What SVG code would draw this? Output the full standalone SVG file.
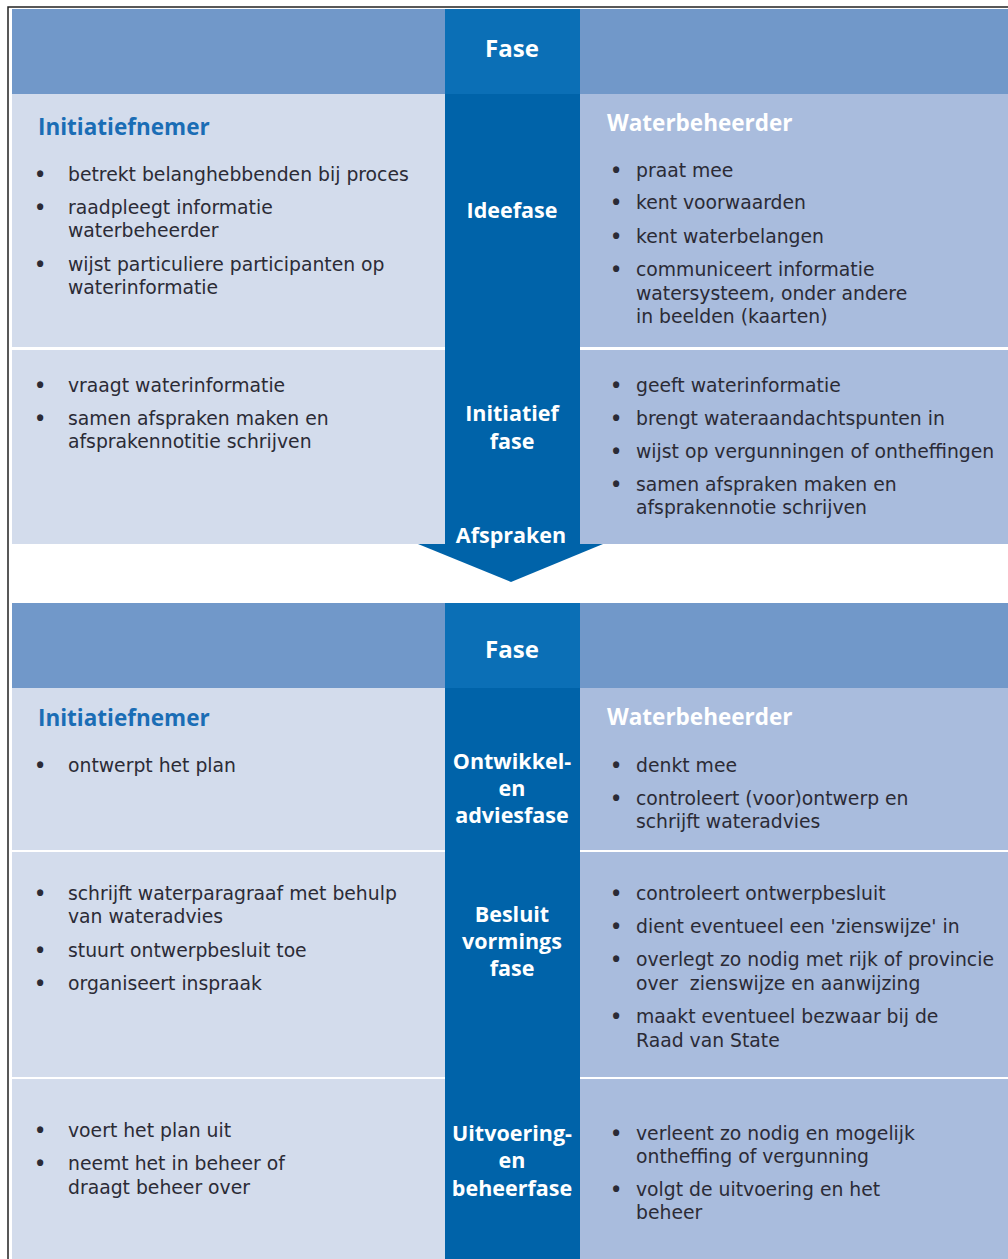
<svg xmlns="http://www.w3.org/2000/svg" width="1008" height="1259" viewBox="0 0 1008 1259">
  <style>
    .hdr { fill: #7198c9; }
    .hdrc { fill: #0b6fb6; }
    .colc { fill: #0063a9; }
    .cl { fill: #d3dcec; }
    .cr { fill: #a9bcdd; }
    text { font-family: "Open Sans", "Noto Sans", "Liberation Sans", sans-serif; }
    .t { font-family: "DejaVu Sans", "Open Sans", sans-serif; font-size: 18.8px; fill: #2b2b36; }
    .b { font-size: 22px; font-weight: bold; fill: #2b2b36; }
    .ttl { font-size: 22.5px; font-weight: bold; }
    .ttl-l { fill: #1a6db5; }
    .ttl-r { fill: #ffffff; }
    .ph { font-size: 21.5px; font-weight: bold; fill: #ffffff; text-anchor: middle; }
    .fase { font-size: 24px; font-weight: bold; fill: #ffffff; text-anchor: middle; }
  </style>

  <!-- outer frame -->
  <rect x="0" y="0" width="1008" height="1259" fill="#ffffff"/>
  <path d="M8 1259 V7 H1008" fill="none" stroke="#222" stroke-width="1.5"/>

  <!-- ============ upper block ============ -->
  <g id="header-top">
    <rect class="hdr" x="12" y="9" width="433" height="85"/>
    <rect class="hdrc" x="445" y="9" width="135" height="85"/>
    <rect class="hdr" x="580" y="9" width="428" height="85"/>
    <text class="fase" x="512" y="57">Fase</text>
  </g>

  <g id="phase-spine-top">
    <rect class="colc" x="445" y="94" width="135" height="450"/>
    <polygon class="colc" points="418,544 603,544 511,582"/>
    <text class="ph" x="512" y="218">Ideefase</text>
    <text class="ph" x="512" y="421">Initiatief<tspan x="512" dy="27.5">fase</tspan></text>
    <text class="ph" x="511" y="543">Afspraken</text>
  </g>

  <g id="ideefase-initiatiefnemer">
    <rect class="cl" x="12" y="94" width="433" height="253"/>
    <text class="ttl ttl-l" x="38" y="135">Initiatiefnemer</text>
    <text class="b" x="36" y="182">•</text>
    <text class="t" x="68" y="181">betrekt belanghebbenden bij proces</text>
    <text class="b" x="36" y="215">•</text>
    <text class="t" x="68" y="214">raadpleegt informatie<tspan x="68" dy="23">waterbeheerder</tspan></text>
    <text class="b" x="36" y="272">•</text>
    <text class="t" x="68" y="271">wijst particuliere participanten op<tspan x="68" dy="23">waterinformatie</tspan></text>
  </g>

  <g id="ideefase-waterbeheerder">
    <rect class="cr" x="580" y="94" width="428" height="253"/>
    <text class="ttl ttl-r" x="607" y="131">Waterbeheerder</text>
    <text class="b" x="612" y="178">•</text>
    <text class="t" x="636" y="177">praat mee</text>
    <text class="b" x="612" y="210">•</text>
    <text class="t" x="636" y="209">kent voorwaarden</text>
    <text class="b" x="612" y="244">•</text>
    <text class="t" x="636" y="243">kent waterbelangen</text>
    <text class="b" x="612" y="277">•</text>
    <text class="t" x="636" y="276">communiceert informatie<tspan x="636" dy="24">watersysteem, onder andere</tspan><tspan x="636" dy="23">in beelden (kaarten)</tspan></text>
  </g>

  <g id="initiatieffase-initiatiefnemer">
    <rect class="cl" x="12" y="350" width="433" height="194"/>
    <text class="b" x="36" y="393">•</text>
    <text class="t" x="68" y="392">vraagt waterinformatie</text>
    <text class="b" x="36" y="426">•</text>
    <text class="t" x="68" y="425">samen afspraken maken en<tspan x="68" dy="23">afsprakennotitie schrijven</tspan></text>
  </g>

  <g id="initiatieffase-waterbeheerder">
    <rect class="cr" x="580" y="350" width="428" height="194"/>
    <text class="b" x="612" y="393">•</text>
    <text class="t" x="636" y="392">geeft waterinformatie</text>
    <text class="b" x="612" y="426">•</text>
    <text class="t" x="636" y="425">brengt wateraandachtspunten in</text>
    <text class="b" x="612" y="459">•</text>
    <text class="t" x="636" y="458">wijst op vergunningen of ontheffingen</text>
    <text class="b" x="612" y="492">•</text>
    <text class="t" x="636" y="491">samen afspraken maken en<tspan x="636" dy="23">afsprakennotie schrijven</tspan></text>
  </g>

  <!-- ============ lower block ============ -->
  <g id="header-bottom">
    <rect class="hdr" x="12" y="603" width="433" height="85"/>
    <rect class="hdrc" x="445" y="603" width="135" height="85"/>
    <rect class="hdr" x="580" y="603" width="428" height="85"/>
    <text class="fase" x="512" y="658">Fase</text>
  </g>

  <g id="phase-spine-bottom">
    <rect class="colc" x="445" y="688" width="135" height="571"/>
    <text class="ph" x="512" y="769">Ontwikkel-<tspan x="512" dy="27">en</tspan><tspan x="512" dy="27">adviesfase</tspan></text>
    <text class="ph" x="512" y="922">Besluit<tspan x="512" dy="27">vormings</tspan><tspan x="512" dy="27">fase</tspan></text>
    <text class="ph" x="512" y="1141">Uitvoering-<tspan x="512" dy="27">en</tspan><tspan x="512" dy="28">beheerfase</tspan></text>
  </g>

  <g id="ontwikkelfase-initiatiefnemer">
    <rect class="cl" x="12" y="688" width="433" height="162"/>
    <text class="ttl ttl-l" x="38" y="726">Initiatiefnemer</text>
    <text class="b" x="36" y="773">•</text>
    <text class="t" x="68" y="772">ontwerpt het plan</text>
  </g>

  <g id="ontwikkelfase-waterbeheerder">
    <rect class="cr" x="580" y="688" width="428" height="162"/>
    <text class="ttl ttl-r" x="607" y="725">Waterbeheerder</text>
    <text class="b" x="612" y="773">•</text>
    <text class="t" x="636" y="772">denkt mee</text>
    <text class="b" x="612" y="806">•</text>
    <text class="t" x="636" y="805">controleert (voor)ontwerp en<tspan x="636" dy="23">schrijft wateradvies</tspan></text>
  </g>

  <g id="besluitfase-initiatiefnemer">
    <rect class="cl" x="12" y="852" width="433" height="225"/>
    <text class="b" x="36" y="901">•</text>
    <text class="t" x="68" y="900">schrijft waterparagraaf met behulp<tspan x="68" dy="23">van wateradvies</tspan></text>
    <text class="b" x="36" y="958">•</text>
    <text class="t" x="68" y="957">stuurt ontwerpbesluit toe</text>
    <text class="b" x="36" y="991">•</text>
    <text class="t" x="68" y="990">organiseert inspraak</text>
  </g>

  <g id="besluitfase-waterbeheerder">
    <rect class="cr" x="580" y="852" width="428" height="225"/>
    <text class="b" x="612" y="901">•</text>
    <text class="t" x="636" y="900">controleert ontwerpbesluit</text>
    <text class="b" x="612" y="934">•</text>
    <text class="t" x="636" y="933">dient eventueel een 'zienswijze' in</text>
    <text class="b" x="612" y="967">•</text>
    <text class="t" x="636" y="966" xml:space="preserve">overlegt zo nodig met rijk of provincie<tspan x="636" dy="24">over  zienswijze en aanwijzing</tspan></text>
    <text class="b" x="612" y="1024">•</text>
    <text class="t" x="636" y="1023">maakt eventueel bezwaar bij de<tspan x="636" dy="24">Raad van State</tspan></text>
  </g>

  <g id="uitvoeringsfase-initiatiefnemer">
    <rect class="cl" x="12" y="1079" width="433" height="180"/>
    <text class="b" x="36" y="1138">•</text>
    <text class="t" x="68" y="1137">voert het plan uit</text>
    <text class="b" x="36" y="1171">•</text>
    <text class="t" x="68" y="1170">neemt het in beheer of<tspan x="68" dy="24">draagt beheer over</tspan></text>
  </g>

  <g id="uitvoeringsfase-waterbeheerder">
    <rect class="cr" x="580" y="1079" width="428" height="180"/>
    <text class="b" x="612" y="1141">•</text>
    <text class="t" x="636" y="1140">verleent zo nodig en mogelijk<tspan x="636" dy="23">ontheffing of vergunning</tspan></text>
    <text class="b" x="612" y="1197">•</text>
    <text class="t" x="636" y="1196">volgt de uitvoering en het<tspan x="636" dy="23">beheer</tspan></text>
  </g>

  <!-- no connectors besides the spine arrow -->
  <g id="connectors"/>
</svg>
